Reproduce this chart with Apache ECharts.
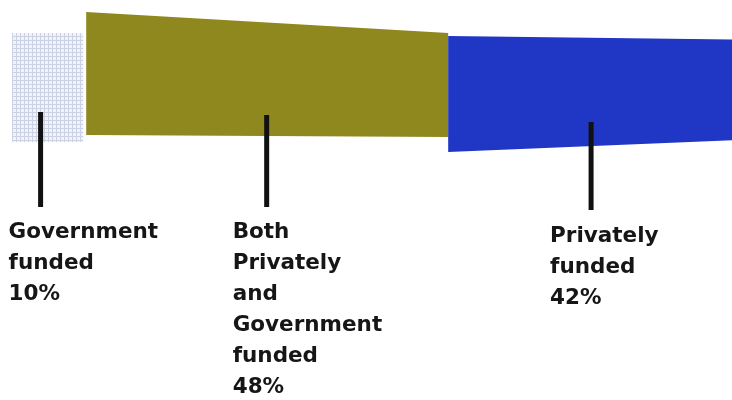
<!DOCTYPE html>
<html><head><meta charset="utf-8">
<script src="https://cdn.jsdelivr.net/npm/echarts@6/dist/echarts.min.js"></script>
<style>html,body{margin:0;padding:0;background:#fff}#c{width:732px;height:400px}</style>
</head><body><div id="c"></div>
<script>
// ---- data ----
const categories = ['Government funded', 'Both Privately and Government funded', 'Privately funded'];
const labelWords = [['Government', 'funded'], ['Both', 'Privately', 'and', 'Government', 'funded'], ['Privately', 'funded']];
const shares = [10, 48, 42];

// ---- styles (pixel offsets relative to the bar's category centre) ----
function gridPattern() {
  const c = document.createElement('canvas');
  c.width = 4; c.height = 4;
  const g = c.getContext('2d');
  g.fillStyle = '#f1f3f9'; g.fillRect(0, 0, 4, 4);
  g.fillStyle = '#cbd2e5'; g.fillRect(0, 0, 4, 1); g.fillRect(0, 0, 1, 4);
  return c;
}
const segStyle = [
  { fill: { image: gridPattern(), repeat: 'repeat' }, padL: 0, padR: -4, tl: -52, tr: -52, br: 57, bl: 57 },
  { fill: '#8f881f', padL: -1, padR: 0, tl: -73, tr: -52, br: 52, bl: 50 },
  { fill: '#2036c4', padL: 0, padR: 0, tl: -49, tr: -45, br: 54, bl: 67 }
];
const annStyle = [
  { lineDx: -9, lineTop: 112, lineBottom: 207, textDx: -32, textTop: 217 },
  { lineDx: -1, lineTop: 115, lineBottom: 207, textDx: -34, textTop: 217 },
  { lineDx: -15, lineTop: 122, lineBottom: 210, textDx: -41, textTop: 221 }
];

// ---- derived data ----
const segData = [];
let acc = 0;
shares.forEach((v, i) => { segData.push([acc, acc + v, 0, i]); acc += v; });
const annData = segData.map(d => [(d[0] + d[1]) / 2, 0]);

const chart = echarts.init(document.getElementById('c'), null, { renderer: 'canvas' });
chart.setOption({
  backgroundColor: '#ffffff',
  animation: false,
  grid: { left: 12, top: 0, width: 752, height: 170, outerBoundsMode: 'none', containLabel: false },
  xAxis: { type: 'value', min: 0, max: 100, show: false },
  yAxis: { type: 'category', data: ['share'], show: false },
  series: [
    {
      type: 'custom',
      name: 'segments',
      data: segData,
      encode: { x: [0, 1], y: 2 },
      renderItem: function (params, api) {
        const i = params.dataIndex;
        const s = segStyle[i];
        const x0 = api.coord([api.value(0), 0])[0] + s.padL;
        const x1 = api.coord([api.value(1), 0])[0] + s.padR;
        const cy = api.coord([0, 0])[1];
        return {
          type: 'polygon',
          shape: { points: [[x0, cy + s.tl], [x1, cy + s.tr], [x1, cy + s.br], [x0, cy + s.bl]] },
          style: { fill: s.fill }
        };
      }
    },
    {
      type: 'custom',
      name: 'labels',
      data: annData,
      encode: { x: 0, y: 1 },
      z: 5,
      renderItem: function (params, api) {
        const i = params.dataIndex;
        const a = annStyle[i];
        const x = api.coord([api.value(0), 0])[0] + a.lineDx;
        const txt = labelWords[i].join('\n') + '\n' + shares[i] + '%';
        return {
          type: 'group',
          children: [
            { type: 'rect', shape: { x: x - 2.5, y: a.lineTop, width: 5, height: a.lineBottom - a.lineTop }, style: { fill: '#111111' } },
            {
              type: 'text', x: x + a.textDx, y: a.textTop,
              style: {
                text: txt, fill: '#161616',
                fontFamily: 'DejaVu Sans', fontWeight: 'bold', fontSize: 21.5,
                lineHeight: 31, align: 'left', verticalAlign: 'top'
              }
            }
          ]
        };
      }
    }
  ]
});
</script>
</body></html>
